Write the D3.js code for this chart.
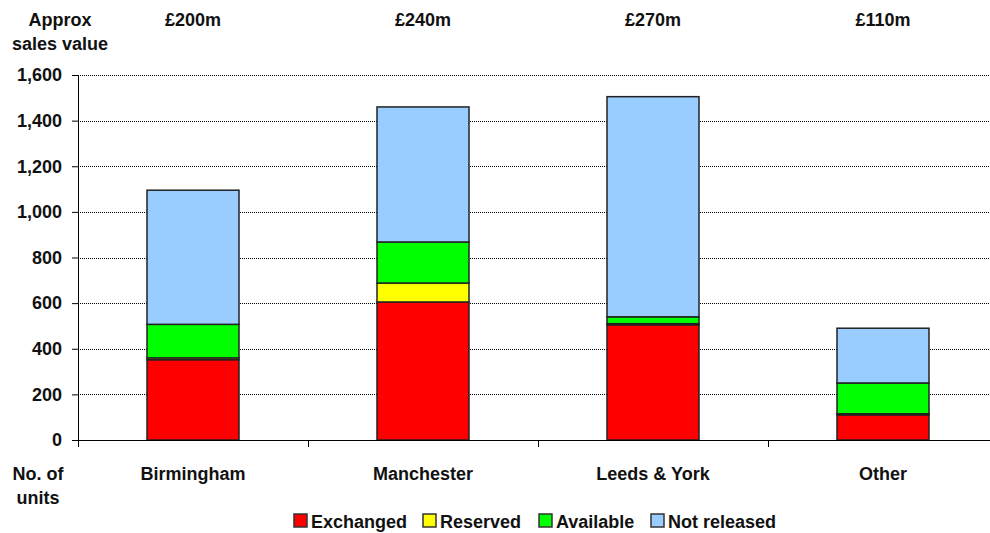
<!DOCTYPE html>
<html>
<head>
<meta charset="utf-8">
<script src="https://cdn.jsdelivr.net/npm/d3@7"></script>
<style>
  body { margin: 0; background: #fff; }
  svg text { font-family: "Liberation Sans", Arial, sans-serif; font-weight: bold; fill: #111; }
</style>
</head>
<body>
<svg id="chart" width="990" height="533"></svg>
<script>
// Data
var regions = ["Birmingham", "Manchester", "Leeds & York", "Other"];
var salesValues = ["£200m", "£240m", "£270m", "£110m"];
var seriesNames = ["Exchanged", "Reserved", "Available", "Not released"];
var seriesColors = ["#ff0000", "#ffff00", "#00ff00", "#99ccff"];
var exchanged = [352, 605, 505, 110];
var reserved = [8, 83, 5, 5];
var available = [147, 180, 30, 135];
var notReleased = [588, 592, 965, 240];
var yTicks = [0, 200, 400, 600, 800, 1000, 1200, 1400, 1600];

var svg = d3.select("#chart");
var plotLeft = 78, plotRight = 998, plotTop = 75, plotBottom = 440;
var fontSize = "18px";

var x = d3.scaleBand().domain(regions).range([plotLeft, plotRight]).paddingInner(0).paddingOuter(0);
var y = d3.scaleLinear().domain([0, 1600]).range([plotBottom, plotTop]);

// Gridlines
svg.append("g")
    .selectAll("line")
    .data(yTicks.filter(function(d) { return d > 0; }))
    .enter().append("line")
    .attr("x1", plotLeft).attr("x2", 990)
    .attr("y1", function(d) { return Math.round(y(d)) + 0.5; })
    .attr("y2", function(d) { return Math.round(y(d)) + 0.5; })
    .attr("stroke", "#000")
    .attr("stroke-width", 1)
    .attr("stroke-dasharray", "1,1");

// Stack the series
var table = regions.map(function(r, i) {
    return {region: r, Exchanged: exchanged[i], Reserved: reserved[i],
            Available: available[i], "Not released": notReleased[i]};
});
var stacked = d3.stack().keys(seriesNames)(table);

var barW = 92;
svg.append("g")
    .selectAll("g")
    .data(stacked)
    .enter().append("g")
    .attr("fill", function(d, i) { return seriesColors[i]; })
    .selectAll("rect")
    .data(function(d) { return d; })
    .enter().append("rect")
    .attr("x", function(d) { return x(d.data.region) + x.bandwidth() / 2 - barW / 2; })
    .attr("y", function(d) { return y(d[1]); })
    .attr("width", barW)
    .attr("height", function(d) { return y(d[0]) - y(d[1]); })
    .attr("stroke", "#222")
    .attr("stroke-width", 1.5);

// Y axis
var yAxis = d3.axisLeft(y).tickValues(yTicks).tickSize(6).tickPadding(10)
    .tickFormat(d3.format(","));
var gy = svg.append("g").attr("transform", "translate(" + plotLeft + ",0)").call(yAxis);
gy.selectAll("text").style("font-size", fontSize).attr("fill", "#111");
gy.select(".domain").attr("stroke", "#000");

// X axis with boundary ticks
svg.append("line")
    .attr("x1", plotLeft).attr("x2", 990)
    .attr("y1", plotBottom + 0.5).attr("y2", plotBottom + 0.5)
    .attr("stroke", "#000");
svg.append("g")
    .selectAll("line")
    .data(regions)
    .enter().append("line")
    .attr("x1", function(d) { return Math.round(x(d)) + 0.5; })
    .attr("x2", function(d) { return Math.round(x(d)) + 0.5; })
    .attr("y1", plotBottom).attr("y2", plotBottom + 7)
    .attr("stroke", "#000");

// Category labels
svg.append("g")
    .selectAll("text")
    .data(regions)
    .enter().append("text")
    .attr("x", function(d) { return x(d) + x.bandwidth() / 2; })
    .attr("y", 480)
    .attr("text-anchor", "middle")
    .style("font-size", fontSize)
    .text(function(d) { return d; });

// Sales values on top
svg.append("g")
    .selectAll("text")
    .data(salesValues)
    .enter().append("text")
    .attr("x", function(d, i) { return x(regions[i]) + x.bandwidth() / 2; })
    .attr("y", 26)
    .attr("text-anchor", "middle")
    .style("font-size", fontSize)
    .text(function(d) { return d; });

// Side titles
function sideTitle(lines, cx, y0) {
    lines.forEach(function(t, i) {
        svg.append("text")
            .attr("x", cx).attr("y", y0 + i * 24)
            .attr("text-anchor", "middle")
            .style("font-size", fontSize)
            .text(t);
    });
}
sideTitle(["Approx", "sales value"], 60, 26);
sideTitle(["No. of", "units"], 38, 480);

// Legend
var legendX = [294, 423, 539, 651];
var legend = svg.append("g")
    .selectAll("g")
    .data(seriesNames)
    .enter().append("g")
    .attr("transform", function(d, i) { return "translate(" + legendX[i] + ",514)"; });
legend.append("rect")
    .attr("width", 13).attr("height", 13)
    .attr("fill", function(d, i) { return seriesColors[i]; })
    .attr("stroke", "#333").attr("stroke-width", 1.5);
legend.append("text")
    .attr("x", 17).attr("y", 14)
    .style("font-size", fontSize)
    .text(function(d) { return d; });
</script>
</body>
</html>
